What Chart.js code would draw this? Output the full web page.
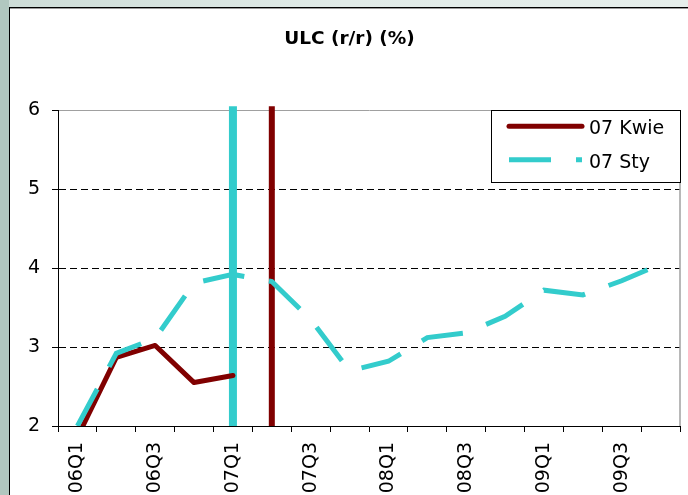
<!DOCTYPE html>
<html>
<head>
<meta charset="utf-8">
<script src="https://cdn.jsdelivr.net/npm/chart.js@4.4.1/dist/chart.umd.min.js"></script>
<style>
  html, body { margin: 0; padding: 0; background: #fff; overflow: hidden; }
  canvas { display: block; }
</style>
</head>
<body>
<canvas id="ulc" width="688" height="495"></canvas>
<script>
// Quarters on the category axis and the ones that carry a label
const quarters = ['06Q1','06Q2','06Q3','06Q4','07Q1','07Q2','07Q3','07Q4',
                  '08Q1','08Q2','08Q3','08Q4','09Q1','09Q2','09Q3','09Q4'];
const xTickLabels = ['06Q1','06Q3','07Q1','07Q3','08Q1','08Q3','09Q1','09Q3'];

// ULC y/y growth, %, by forecast round
const seriesNames = ['07 Kwie', '07 Sty'];
const kwieValues = [1.86, 2.87, 3.02, 2.55, 2.64, null, null, null,
                    null, null, null, null, null, null, null, null];
const styValues  = [2.00, 2.92, 3.11, 3.81, 3.92, 3.83, 3.35, 2.70,
                    2.82, 3.12, 3.18, 3.39, 3.72, 3.66, 3.84, 4.05];

// Quarter of each forecast round (vertical marks), Sty first, then Kwie
const markerQuarters = ['07Q1', '07Q2'];
const markerRange = [2, 6.05];

// Value axis
const yMin = 2, yMax = 6, yStep = 1;

const RED = '#800000';
const CYAN = '#33CCCC';
const FONT = 'DejaVu Sans';
const STY_DASH = [42, 25];

const markerData = q => markerRange.map(v => ({ x: q, y: v }));

// Outer frame of the chart object
const framePlugin = {
  id: 'frame',
  beforeDraw(chart) {
    const { ctx, width, height } = chart;
    ctx.save();
    ctx.fillStyle = '#ffffff';
    ctx.fillRect(0, 0, width, height);
    const g = ctx.createLinearGradient(0, 0, width, 0);
    g.addColorStop(0, '#cddcd7');
    g.addColorStop(0.5, '#e1ebe8');
    g.addColorStop(1, '#e6eeeb');
    ctx.fillStyle = g;
    ctx.fillRect(0, 0, width, 7);
    ctx.fillStyle = '#b1c7bf';
    ctx.fillRect(0, 0, 9, height);
    ctx.fillStyle = '#000';
    ctx.fillRect(9, 7, width - 9, 1);
    ctx.fillRect(9, 7, 1, height - 7);
    ctx.fillStyle = '#9a9a9a';
    ctx.fillRect(10, 8, width - 10, 1);
    ctx.restore();
  },
  beforeDatasetsDraw(chart) {
    // right edge of the plot area
    const { ctx, chartArea: a } = chart;
    ctx.save();
    ctx.strokeStyle = '#a0a0a0';
    ctx.lineWidth = 1.5;
    ctx.beginPath();
    ctx.moveTo(a.right, a.top);
    ctx.lineTo(a.right, a.bottom);
    ctx.stroke();
    ctx.restore();
  }
};

// Boxed legend inside the top-right corner of the plot area
const boxLegendPlugin = {
  id: 'boxLegend',
  afterDatasetsDraw(chart) {
    const { ctx, chartArea: a } = chart;
    const w = 189, h = 72;
    const left = a.right - w, top = a.top;
    ctx.save();
    ctx.fillStyle = '#fff';
    ctx.fillRect(left, top, w, h);
    ctx.strokeStyle = '#000';
    ctx.lineWidth = 1;
    ctx.strokeRect(Math.round(left) + 0.5, Math.round(top) + 0.5, w, h);

    const rows = [
      { name: seriesNames[0], color: RED, dash: [], cap: 'round', y: top + 16 },
      { name: seriesNames[1], color: CYAN, dash: STY_DASH, cap: 'butt', y: top + 49.5 }
    ];
    rows.forEach(r => {
      ctx.beginPath();
      ctx.strokeStyle = r.color;
      ctx.lineWidth = 5;
      ctx.lineCap = r.cap;
      ctx.setLineDash(r.dash);
      ctx.moveTo(left + 18, r.y);
      ctx.lineTo(left + 91, r.y);
      ctx.stroke();
      ctx.setLineDash([]);
      ctx.fillStyle = '#000';
      ctx.font = '19px "' + FONT + '"';
      ctx.textBaseline = 'alphabetic';
      ctx.textAlign = 'left';
      ctx.fillText(r.name, left + 98, r.y + 8);
    });
    ctx.restore();
  }
};

new Chart(document.getElementById('ulc'), {
  type: 'line',
  data: {
    labels: quarters,
    datasets: [
      {
        label: seriesNames[1],
        data: styValues,
        borderColor: CYAN,
        borderWidth: 5,
        borderDash: STY_DASH,
        borderCapStyle: 'butt',
        pointRadius: 0,
        tension: 0,
        clip: 0
      },
      {
        label: seriesNames[0],
        data: kwieValues,
        borderColor: RED,
        borderWidth: 5,
        borderCapStyle: 'round',
        borderJoinStyle: 'round',
        pointRadius: 0,
        tension: 0,
        spanGaps: false,
        clip: 0
      },
      {
        label: 'Sty mark',
        data: markerData(markerQuarters[0]),
        borderColor: CYAN,
        borderWidth: 8,
        borderCapStyle: 'butt',
        pointRadius: 0,
        clip: false
      },
      {
        label: 'Kwie mark',
        data: markerData(markerQuarters[1]),
        borderColor: RED,
        borderWidth: 6,
        borderCapStyle: 'butt',
        pointRadius: 0,
        clip: false
      }
    ]
  },
  options: {
    responsive: false,
    animation: false,
    layout: { padding: { left: 19, right: 8, top: 0, bottom: 0 } },
    plugins: {
      legend: { display: false },
      tooltip: { enabled: false },
      title: {
        display: true,
        text: 'ULC (r/r) (%)',
        color: '#000',
        font: { family: FONT, size: 18.5, weight: 'bold' },
        padding: { top: 28, bottom: 60 }
      }
    },
    scales: {
      x: {
        type: 'category',
        offset: true,
        grid: {
          offset: true,
          drawOnChartArea: false,
          drawTicks: true,
          tickLength: 6,
          tickColor: '#000',
          tickWidth: 1
        },
        border: { display: true, color: '#000', width: 1 },
        ticks: {
          autoSkip: false,
          minRotation: 90,
          maxRotation: 90,
          padding: 10,
          color: '#000',
          font: { family: FONT, size: 19 },
          callback: (v, i) => xTickLabels.includes(quarters[i]) ? quarters[i] : ''
        },
        afterFit: s => { s.height = 69; s.paddingLeft = 0; s.paddingRight = 0; }
      },
      y: {
        min: yMin,
        max: yMax,
        grid: {
          drawTicks: true,
          tickLength: 6,
          tickColor: '#000',
          lineWidth: 1,
          color: c => c.tick.value === yMin ? 'rgba(0,0,0,0)'
                    : (c.tick.value === yMax ? '#a0a0a0' : '#000')
        },
        border: {
          display: true,
          color: '#000',
          width: 1,
          dash: c => (c.tick && c.tick.value === yMax) ? [] : [7, 4]
        },
        ticks: {
          stepSize: yStep,
          padding: 12,
          color: '#000',
          font: { family: FONT, size: 19 }
        },
        afterFit: s => { s.width = 39; s.paddingTop = 0; s.paddingBottom = 0; }
      }
    }
  },
  plugins: [framePlugin, boxLegendPlugin]
});
</script>
</body>
</html>
